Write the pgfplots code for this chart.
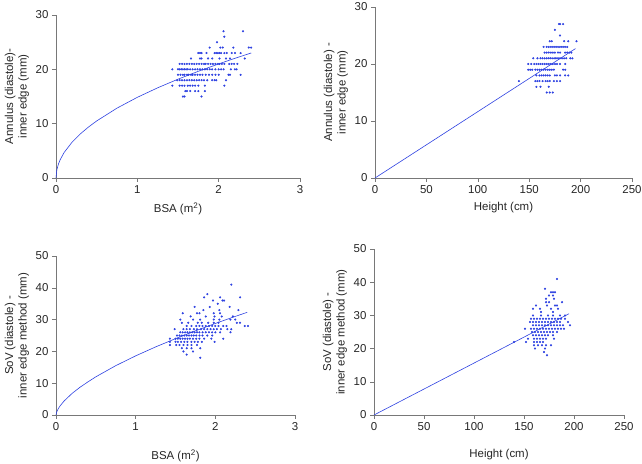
\documentclass[border=0pt]{standalone}
\usepackage{pgfplots}
\pgfplotsset{compat=1.18}
\usepackage{fontspec}
\setmainfont{Liberation Sans}
\definecolor{pt}{RGB}{45,65,225}
\definecolor{axg}{RGB}{120,120,120}
\pgfplotsset{myax/.style={
  scale only axis, axis lines=left, axis line style={-,axg,line width=0.6pt},
  tick style={axg,line width=0.6pt}, tick align=outside, major tick length=4bp,
  xmin=0, ymin=0, anchor=south west, clip=false,
  tick label style={font=\fontsize{11.5}{13}\selectfont, color=black!85},
  label style={font=\fontsize{11.5}{13.5}\selectfont, color=black!85},
  ylabel style={align=center},
  /pgf/number format/assume math mode=true,
  every axis plot/.append style={color=pt},
},
sc/.style={only marks, mark=*, mark size=0.85pt, pt},
fit/.style={no marks, pt, line width=0.6pt}}
\begin{document}
\begin{tikzpicture}
\useasboundingbox (0bp,0bp) rectangle (642bp,-464bp);
% ---------- top left ----------
\begin{axis}[myax, at={(56bp,-178bp)}, width=244bp, height=163bp,
  xmax=3, ymax=30, xtick={0,1,2,3}, ytick={0,10,20,30},
  xlabel={BSA (m\textsuperscript{2})}, xlabel style={yshift=-2bp},
  ylabel={Annulus (diastole)-\\inner edge (mm)}]
\addplot[sc] table {
2.06 27
2.30 27
2.07 26
1.98 25
1.89 24
2.02 24
2.05 24
2.18 24
2.37 24
2.40 24
1.75 23
1.77 23
1.79 23
1.85 23
1.95 23
1.97 23
1.99 23
2.01 23
2.03 23
2.07 23
2.10 23
2.16 23
2.20 23
2.27 23
1.66 22
1.77 22
1.79 22
1.87 22
1.92 22
2.01 22
2.09 22
2.14 22
2.32 22
1.52 21
1.55 21
1.58 21
1.61 21
1.64 21
1.67 21
1.70 21
1.73 21
1.76 21
1.79 21
1.82 21
1.84 21
1.87 21
1.90 21
1.93 21
1.96 21
1.99 21
2.01 21
2.04 21
2.07 21
2.13 21
2.16 21
2.19 21
2.23 21
1.43 20
1.50 20
1.52 20
1.54 20
1.56 20
1.58 20
1.60 20
1.62 20
1.65 20
1.68 20
1.71 20
1.74 20
1.77 20
1.80 20
1.83 20
1.86 20
1.89 20
1.92 20
1.96 20
2.00 20
2.03 20
2.06 20
2.15 20
2.20 20
2.22 20
1.50 19
1.53 19
1.56 19
1.58 19
1.61 19
1.63 19
1.66 19
1.68 19
1.71 19
1.74 19
1.77 19
1.80 19
1.84 19
1.88 19
1.92 19
1.96 19
2.00 19
2.12 19
2.14 19
2.27 19
1.49 18
1.52 18
1.55 18
1.58 18
1.61 18
1.64 18
1.67 18
1.70 18
1.73 18
1.76 18
1.79 18
1.82 18
1.86 18
1.92 18
1.95 18
1.97 18
2.09 18
1.43 17
1.52 17
1.55 17
1.58 17
1.62 17
1.65 17
1.68 17
1.71 17
1.75 17
1.83 17
2.07 17
1.59 16
1.61 16
1.65 16
1.71 16
1.75 16
1.83 16
1.56 15
1.58 15
1.79 15
};
\addplot[fit] coordinates {(0,0) (0.01,1.49) (0.03,2.57) (0.05,3.32) (0.1,4.70) (0.2,6.64) (0.3,8.13) (0.4,9.39) (0.5,10.50) (0.75,12.86) (1,14.85) (1.25,16.60) (1.5,18.19) (1.75,19.64) (2,21.00) (2.2,22.03) (2.4,23.01)};
\end{axis}
% ---------- top right ----------
\begin{axis}[myax, at={(375bp,-178bp)}, width=257bp, height=171bp,
  xmax=250, ymax=30, xtick={0,50,100,150,200,250}, ytick={0,10,20,30},
  xlabel={Height (cm)}, xlabel style={yshift=-2bp},
  ylabel={Annulus (diastole) -\\inner edge (mm)}]
\addplot[sc] table {
179 27
180 27
183 27
175 26
180 25
170 24
172 24
184 24
188 24
196 24
164 23
167 23
169 23
171 23
173 23
175 23
177 23
179 23
181 23
183 23
185 23
187 23
165 22
167 22
169 22
171 22
173 22
175 22
178 22
180 22
185 22
187 22
189 22
191 22
154 21
158 21
161 21
163 21
165 21
167 21
169 21
171 21
173 21
175 21
176 21
178 21
180 21
182 21
184 21
186 21
190 21
192 21
149 20
152 20
155 20
157 20
159 20
161 20
163 20
165 20
167 20
169 20
171 20
173 20
175 20
177 20
180 20
185 20
149 19
151 19
153 19
156 19
158 19
160 19
162 19
164 19
166 19
168 19
170 19
172 19
174 19
183 19
185 19
157 18
160 18
162 18
164 18
166 18
168 18
170 18
175 18
177 18
180 18
185 18
188 18
140 17
156 17
158 17
160 17
163 17
166 17
168 17
170 17
174 17
177 17
180 17
157 16
161 16
169 16
167 15
170 15
173 15
};
\addplot[fit] coordinates {(0,0) (195,22.7)};
\end{axis}
% ---------- bottom left ----------
\begin{axis}[myax, at={(56bp,-415bp)}, width=239bp, height=159bp,
  xmax=3, ymax=50, xtick={0,1,2,3}, ytick={0,10,20,30,40,50},
  xlabel={BSA (m\textsuperscript{2})}, xlabel style={yshift=-12bp},
  ylabel={SoV (diastole) -\\inner edge method (mm)}]
\addplot[sc] table {
2.20 41
1.90 38
1.86 37
2.06 37
2.31 37
1.97 36
2.09 36
2.11 36
2.03 35
1.74 34
1.93 34
2.18 34
1.85 33
2.05 33
2.29 33
1.59 32
1.77 32
1.80 32
1.98 32
2.06 32
1.69 31
1.88 31
1.99 31
2.08 31
2.22 31
1.56 30
1.72 30
1.81 30
1.98 30
2.05 30
2.19 30
2.25 30
1.58 29
1.66 29
1.78 29
1.83 29
1.91 29
1.98 29
2.04 29
2.27 29
2.31 29
1.64 28
1.70 28
1.76 28
1.80 28
1.84 28
1.88 28
1.92 28
1.96 28
2.00 28
2.04 28
2.10 28
2.14 28
2.37 28
2.41 28
1.49 27
1.60 27
1.64 27
1.68 27
1.73 27
1.77 27
1.82 27
1.86 27
1.90 27
1.94 27
1.98 27
2.02 27
2.07 27
2.15 27
2.20 27
1.56 26
1.59 26
1.62 26
1.65 26
1.68 26
1.71 26
1.74 26
1.77 26
1.80 26
1.84 26
1.88 26
1.92 26
1.96 26
2.00 26
2.06 26
2.19 26
1.52 25
1.55 25
1.58 25
1.61 25
1.64 25
1.67 25
1.70 25
1.73 25
1.76 25
1.80 25
1.84 25
1.90 25
1.96 25
1.43 24
1.50 24
1.53 24
1.56 24
1.59 24
1.62 24
1.65 24
1.68 24
1.72 24
1.76 24
1.80 24
1.86 24
1.95 24
2.10 24
1.43 23
1.50 23
1.53 23
1.57 23
1.61 23
1.65 23
1.70 23
1.74 23
1.78 23
1.83 23
1.99 23
1.43 22
1.51 22
1.55 22
1.60 22
1.65 22
1.70 22
1.77 22
1.58 21
1.64 21
1.70 21
1.81 21
1.60 20
1.72 20
1.64 19
1.81 18
};
\addplot[fit] coordinates {(0,0) (0.01,1.02) (0.03,2.06) (0.05,2.81) (0.1,4.36) (0.2,6.75) (0.3,8.71) (0.4,10.40) (0.5,12.01) (0.75,15.52) (1,18.60) (1.25,21.41) (1.5,24.01) (1.75,26.47) (2,28.79) (2.2,30.57) (2.4,32.29)};
\end{axis}
% ---------- bottom right ----------
\begin{axis}[myax, at={(374bp,-415bp)}, width=250bp, height=166bp,
  xmax=250, ymax=50, xtick={0,50,100,150,200,250}, ytick={0,10,20,30,40,50},
  xlabel={Height (cm)}, xlabel style={yshift=-12bp},
  ylabel={SoV (diastole) -\\inner edge method (mm)}]
\addplot[sc] table {
183 41
171 38
177 37
179 37
181 37
175 36
179 36
172 35
180 35
172 34
175 34
188 34
162 33
173 33
181 33
183 33
159 32
166 32
177 32
184 32
167 31
179 31
159 30
167 30
174 30
179 30
186 30
191 30
157 29
160 29
163 29
166 29
169 29
172 29
175 29
178 29
181 29
184 29
187 29
191 29
156 28
159 28
162 28
165 28
168 28
171 28
174 28
177 28
180 28
183 28
186 28
194 28
159 27
162 27
165 27
168 27
171 27
174 27
177 27
180 27
183 27
186 27
189 27
196 27
151 26
157 26
160 26
163 26
166 26
169 26
172 26
175 26
178 26
181 26
184 26
187 26
190 26
158 25
161 25
164 25
167 25
170 25
173 25
176 25
179 25
183 25
159 24
162 24
165 24
168 24
171 24
174 24
179 24
154 23
160 23
163 23
166 23
169 23
172 23
180 23
140 22
152 22
160 22
163 22
166 22
169 22
160 21
164 21
168 21
172 21
177 21
161 20
171 20
170 19
173 18
};
\addplot[fit] coordinates {(0,0) (195,30.5)};
\end{axis}
\end{tikzpicture}
\end{document}
